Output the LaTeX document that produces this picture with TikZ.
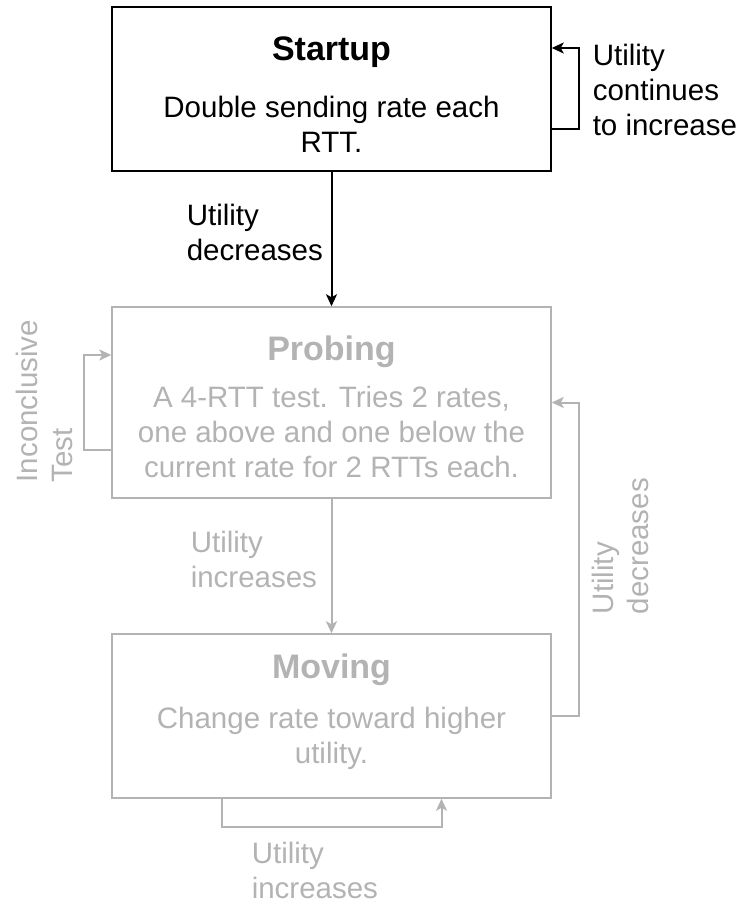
\documentclass[tikz,border=0pt]{standalone}
\usepackage{fontspec}
\setmainfont{Liberation Sans}
\usetikzlibrary{arrows.meta}
\definecolor{faded}{HTML}{B3B3B3}
\begin{document}
\begin{tikzpicture}[x=1pt,y=-1pt,line width=1.5pt,
  >={Stealth[length=12pt,width=11pt,inset=3pt]},
  statebox/.style={draw,minimum width=439pt,inner sep=0pt},
  statename/.style={font=\fontsize{34}{40}\selectfont\bfseries},
  body/.style={align=center,font=\fontsize{29.5}{35}\selectfont},
  note/.style={align=left,anchor=west,inner sep=0pt,font=\fontsize{29.5}{35}\selectfont},
  link/.style={line width=2pt,->}]
\useasboundingbox (0,0) rectangle (739,904);

\node[statebox,minimum height=164pt] (startup) at (331.5,89) {};
\node[statename] (startupname) at (331.5,52) {Startup};
\node[body] (startuptext) at (331.5,124.5) {Double sending rate each\\RTT.};

\node[statebox,draw=faded,minimum height=191pt] (probing) at (331.5,402.5) {};
\node[statename,text=faded] (probingname) at (331.5,352) {Probing};
\node[body,text=faded] (probingtext) at (331.5,432) {A 4-RTT test. Tries 2 rates,\\one above and one below the\\current rate for 2 RTTs each.};

\node[statebox,draw=faded,minimum height=164pt] (moving) at (331.5,716) {};
\node[statename,text=faded] (movingname) at (331.5,670) {Moving};
\node[body,text=faded] (movingtext) at (331.5,738) {Change rate toward higher\\utility.};

\node[note] (keepup) at (592,90) {Utility\\continues\\to increase};
\node[note] (fall) at (186,232.5) {Utility\\decreases};
\node[note,text=faded] (rise) at (190,559.5) {Utility\\increases};
\node[note,text=faded] (stillrise) at (251,870) {Utility\\increases};
\node[note,text=faded,rotate=90] (inconclusive) at (44,483) {Inconclusive\\Test};
\node[note,text=faded,rotate=90] (back) at (620,615) {Utility\\decreases};

\draw[link] ([yshift=-40pt]startup.east) -- ++(27,0) |- ([yshift=41pt]startup.east);
\draw[link] (startup) -- (probing);
\draw[link,faded] ([yshift=-47.5pt]probing.west) -- ++(-27,0) |- ([yshift=47.5pt]probing.west);
\draw[link,faded] (probing) -- (moving);
\draw[link,faded] (moving.east) -- ++(27,0) |- (probing.east);
\draw[link,faded] ([xshift=-110pt]moving.south) -- ++(0,28) -| ([xshift=110pt]moving.south);

\end{tikzpicture}
\end{document}
